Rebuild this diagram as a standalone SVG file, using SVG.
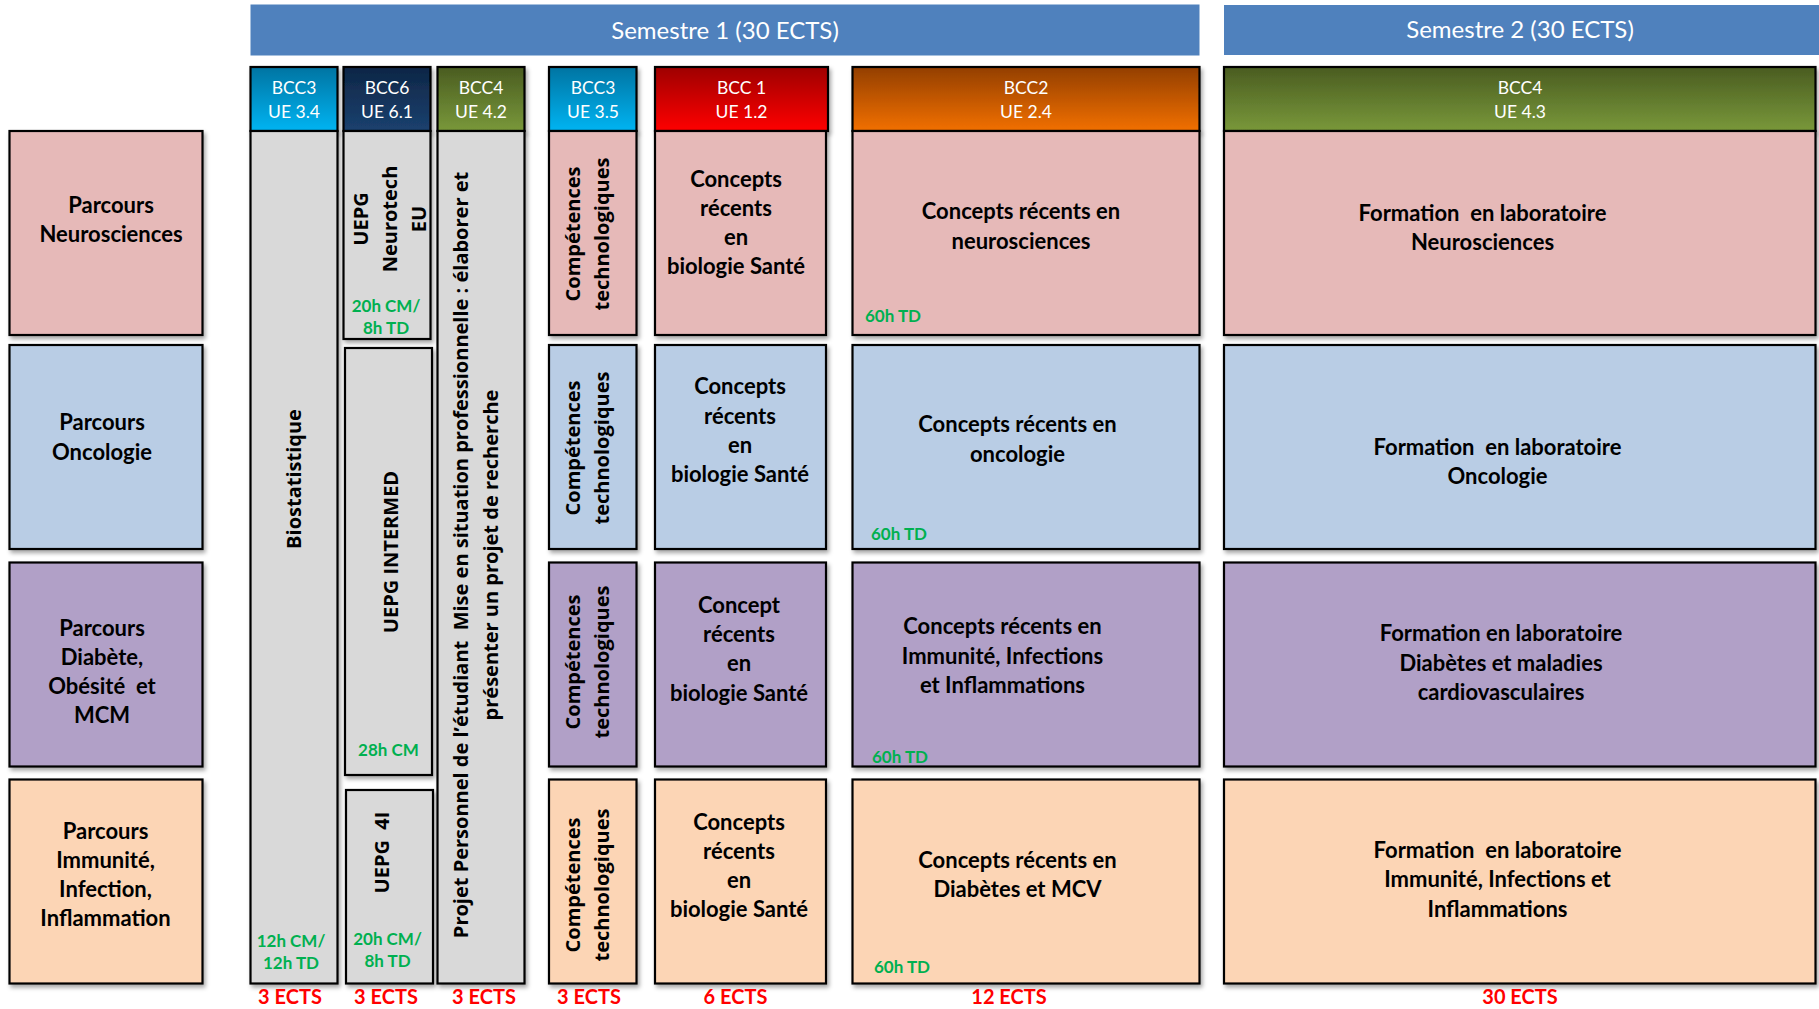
<svg xmlns="http://www.w3.org/2000/svg" width="1819" height="1009" viewBox="0 0 1819 1009">
<defs>
<style>
.box{stroke:#000;stroke-width:2.2;filter:url(#sh)}
.hdr{stroke:#000;stroke-width:2.2;filter:url(#sh)}
.r1{fill:#E6B9B8}.r2{fill:#B9CDE5}.r3{fill:#B1A0C7}.r4{fill:#FCD5B5}.gr{fill:#D9D9D9}
.ban{fill:#4F81BD}
.t{font-family:Lato,Carlito,"Liberation Sans",sans-serif;font-weight:bold;font-size:22px;fill:#000;text-anchor:middle;dominant-baseline:central}
.ht{font-family:Lato,Carlito,"Liberation Sans",sans-serif;font-size:17.5px;fill:#fff;text-anchor:middle;dominant-baseline:central}
.st{font-family:Lato,Carlito,"Liberation Sans",sans-serif;font-size:24px;fill:#fff;text-anchor:middle;dominant-baseline:central}
.rt{font-family:"Open Sans","Noto Sans",sans-serif;font-weight:bold;font-size:20px;fill:#000;text-anchor:middle;dominant-baseline:central}
.g{font-family:Lato,Carlito,"Liberation Sans",sans-serif;font-weight:bold;font-size:17px;fill:#00B050;text-anchor:middle;dominant-baseline:central}
.gl{text-anchor:start}
.ects{font-family:Lato,Carlito,"Liberation Sans",sans-serif;font-weight:bold;font-size:20px;fill:#FF0000;text-anchor:middle;dominant-baseline:central}
.band{stroke-width:11;filter:url(#sh)}
</style>
<filter id="sh" x="-10%" y="-10%" width="125%" height="125%">
<feDropShadow dx="2" dy="3" stdDeviation="2" flood-color="#000" flood-opacity="0.35"/>
</filter>
<linearGradient id="gCyan" x1="0" y1="0" x2="0" y2="1"><stop offset="0" stop-color="#0074A2"/><stop offset="1" stop-color="#00B4F2"/></linearGradient>
<linearGradient id="gNavy" x1="0" y1="0" x2="0" y2="1"><stop offset="0" stop-color="#0E2646"/><stop offset="1" stop-color="#1B416F"/></linearGradient>
<linearGradient id="gOlive" x1="0" y1="0" x2="0" y2="1"><stop offset="0" stop-color="#4A5C21"/><stop offset="1" stop-color="#79983A"/></linearGradient>
<linearGradient id="gRed" x1="0" y1="0" x2="0" y2="1"><stop offset="0" stop-color="#9E0000"/><stop offset="1" stop-color="#FF0000"/></linearGradient>
<linearGradient id="gOrange" x1="0" y1="0" x2="0" y2="1"><stop offset="0" stop-color="#933F00"/><stop offset="1" stop-color="#F27000"/></linearGradient>
</defs>
<rect width="1819" height="1009" fill="#fff"/>

<g id="connectors">
<line class="band" x1="200" y1="237.5" x2="1226" y2="237.5" stroke="#DFADAC"/>
<line class="band" x1="200" y1="450.5" x2="1226" y2="450.5" stroke="#95B3D7"/>
<line class="band" x1="200" y1="657.5" x2="1226" y2="657.5" stroke="#B3A2C7"/>
<line class="band" x1="200" y1="874" x2="1226" y2="874" stroke="#F7C7A0"/>
</g>

<g id="semestre1"><rect class="ban" x="250.5" y="4.5" width="949" height="51"/><text class="st" x="725" y="29.5">Semestre 1 (30 ECTS)</text></g>
<g id="semestre2"><rect class="ban" x="1224" y="5" width="595" height="50"/><text class="st" x="1520" y="28.5">Semestre 2 (30 ECTS)</text></g>

<g id="hdr-bcc3-34"><rect class="hdr" x="250.5" y="67" width="87" height="64" fill="url(#gCyan)"/><text class="ht" x="294" y="87.5">BCC3</text><text class="ht" x="294" y="111">UE 3.4</text></g>
<g id="hdr-bcc6"><rect class="hdr" x="343.5" y="67" width="87" height="64" fill="url(#gNavy)"/><text class="ht" x="387" y="87.5">BCC6</text><text class="ht" x="387" y="111">UE 6.1</text></g>
<g id="hdr-bcc4-42"><rect class="hdr" x="437.5" y="67" width="87" height="64" fill="url(#gOlive)"/><text class="ht" x="481" y="87.5">BCC4</text><text class="ht" x="481" y="111">UE 4.2</text></g>
<g id="hdr-bcc3-35"><rect class="hdr" x="549" y="67" width="87.5" height="64" fill="url(#gCyan)"/><text class="ht" x="593" y="87.5">BCC3</text><text class="ht" x="593" y="111">UE 3.5</text></g>
<g id="hdr-bcc1"><rect class="hdr" x="655" y="67" width="173" height="64" fill="url(#gRed)"/><text class="ht" x="741.5" y="87.5">BCC 1</text><text class="ht" x="741.5" y="111">UE 1.2</text></g>
<g id="hdr-bcc2"><rect class="hdr" x="852.5" y="67" width="347" height="64" fill="url(#gOrange)"/><text class="ht" x="1026" y="87.5">BCC2</text><text class="ht" x="1026" y="111">UE 2.4</text></g>
<g id="hdr-bcc4-43"><rect class="hdr" x="1224" y="67" width="591.5" height="64" fill="url(#gOlive)"/><text class="ht" x="1520" y="87.5">BCC4</text><text class="ht" x="1520" y="111">UE 4.3</text></g>

<g id="parcours-neuro"><rect class="box r1" x="9.5" y="131" width="193" height="204"/><text class="t" x="111" y="204.5">Parcours</text><text class="t" x="111" y="233.5">Neurosciences</text></g>
<g id="parcours-onco"><rect class="box r2" x="9.5" y="345" width="193" height="204"/><text class="t" x="102" y="421.5">Parcours</text><text class="t" x="102" y="451">Oncologie</text></g>
<g id="parcours-diab"><rect class="box r3" x="9.5" y="562.5" width="193" height="204"/><text class="t" x="102" y="627.5">Parcours</text><text class="t" x="102" y="656.5">Diabète,</text><text class="t" x="102" y="685.5" xml:space="preserve">Obésité  et</text><text class="t" x="102" y="714.5">MCM</text></g>
<g id="parcours-immun"><rect class="box r4" x="9.5" y="779.5" width="193" height="204"/><text class="t" x="105.5" y="830.5">Parcours</text><text class="t" x="105.5" y="859.5">Immunité,</text><text class="t" x="105.5" y="888.5">Infection,</text><text class="t" x="105.5" y="917.5">Inflammation</text></g>

<g id="biostat"><rect class="box gr" x="250.5" y="131" width="87" height="852.5"/><text class="rt" transform="translate(293.5,479) rotate(-90)">Biostatistique</text><text class="g" x="291" y="940">12h CM/</text><text class="g" x="291" y="962">12h TD</text></g>

<g id="uepg-neurotech"><rect class="box gr" x="343.5" y="131" width="87" height="208"/><text class="rt" transform="translate(360.5,219) rotate(-90)">UEPG</text><text class="rt" transform="translate(389.5,219) rotate(-90)">Neurotech</text><text class="rt" transform="translate(418,219) rotate(-90)">EU</text><text class="g" x="386" y="305">20h CM/</text><text class="g" x="386" y="327">8h TD</text></g>
<g id="uepg-intermed"><rect class="box gr" x="345" y="348" width="87" height="427"/><text class="rt" transform="translate(390,552) rotate(-90)">UEPG INTERMED</text><text class="g" x="388.5" y="749.5">28h CM</text></g>
<g id="uepg-4i"><rect class="box gr" x="346" y="790" width="87" height="193.5"/><text class="rt" transform="translate(381.5,852.5) rotate(-90)" xml:space="preserve">UEPG  4I</text><text class="g" x="387.5" y="938.5">20h CM/</text><text class="g" x="387.5" y="960.5">8h TD</text></g>

<g id="projet"><rect class="box gr" x="437.5" y="131" width="87" height="852.5"/><text class="rt" transform="translate(460,555) rotate(-90)" xml:space="preserve">Projet Personnel de l’étudiant  Mise en situation professionnelle : élaborer et</text><text class="rt" transform="translate(490.5,555) rotate(-90)">présenter un projet de recherche</text></g>

<g id="comp-1"><rect class="box r1" x="549" y="131" width="87.5" height="204"/><text class="rt" transform="translate(572,234) rotate(-90)">Compétences</text><text class="rt" transform="translate(601,234) rotate(-90)">technologiques</text></g>
<g id="comp-2"><rect class="box r2" x="549" y="345" width="87.5" height="204"/><text class="rt" transform="translate(572,448) rotate(-90)">Compétences</text><text class="rt" transform="translate(601,448) rotate(-90)">technologiques</text></g>
<g id="comp-3"><rect class="box r3" x="549" y="562.5" width="87.5" height="204"/><text class="rt" transform="translate(572,662) rotate(-90)">Compétences</text><text class="rt" transform="translate(601,662) rotate(-90)">technologiques</text></g>
<g id="comp-4"><rect class="box r4" x="549" y="779.5" width="87.5" height="204"/><text class="rt" transform="translate(572,885) rotate(-90)">Compétences</text><text class="rt" transform="translate(601,885) rotate(-90)">technologiques</text></g>

<g id="bcc1-1"><rect class="box r1" x="655" y="131" width="171" height="204"/><text class="t" x="736" y="178.5">Concepts</text><text class="t" x="736" y="207.5">récents</text><text class="t" x="736" y="236.5">en</text><text class="t" x="736" y="265.5">biologie Santé</text></g>
<g id="bcc1-2"><rect class="box r2" x="655" y="345" width="171" height="204"/><text class="t" x="740" y="385">Concepts</text><text class="t" x="740" y="415">récents</text><text class="t" x="740" y="444">en</text><text class="t" x="740" y="473">biologie Santé</text></g>
<g id="bcc1-3"><rect class="box r3" x="655" y="562.5" width="171" height="204"/><text class="t" x="739" y="604">Concept</text><text class="t" x="739" y="633">récents</text><text class="t" x="739" y="662">en</text><text class="t" x="739" y="692.5">biologie Santé</text></g>
<g id="bcc1-4"><rect class="box r4" x="655" y="779.5" width="171" height="204"/><text class="t" x="739" y="821">Concepts</text><text class="t" x="739" y="850">récents</text><text class="t" x="739" y="879">en</text><text class="t" x="739" y="908">biologie Santé</text></g>

<g id="bcc2-1"><rect class="box r1" x="852.5" y="131" width="347" height="204"/><text class="t" x="1021" y="210">Concepts récents en</text><text class="t" x="1021" y="240">neurosciences</text><text class="g gl" x="865" y="315.5">60h TD</text></g>
<g id="bcc2-2"><rect class="box r2" x="852.5" y="345" width="347" height="204"/><text class="t" x="1017.5" y="423.5">Concepts récents en</text><text class="t" x="1017.5" y="453.5">oncologie</text><text class="g gl" x="871" y="533.5">60h TD</text></g>
<g id="bcc2-3"><rect class="box r3" x="852.5" y="562.5" width="347" height="204"/><text class="t" x="1002.5" y="625">Concepts récents en</text><text class="t" x="1002.5" y="655.5">Immunité, Infections</text><text class="t" x="1002.5" y="684.5">et Inflammations</text><text class="g gl" x="872" y="756.5">60h TD</text></g>
<g id="bcc2-4"><rect class="box r4" x="852.5" y="779.5" width="347" height="204"/><text class="t" x="1017.5" y="859.5">Concepts récents en</text><text class="t" x="1017.5" y="888.5">Diabètes et MCV</text><text class="g gl" x="874" y="966.5">60h TD</text></g>

<g id="s2-1"><rect class="box r1" x="1224" y="131" width="591.5" height="204"/><text class="t" x="1482.5" y="212.5" xml:space="preserve">Formation  en laboratoire</text><text class="t" x="1482.5" y="241.5">Neurosciences</text></g>
<g id="s2-2"><rect class="box r2" x="1224" y="345" width="591.5" height="204"/><text class="t" x="1497.5" y="446.5" xml:space="preserve">Formation  en laboratoire</text><text class="t" x="1497.5" y="475.5">Oncologie</text></g>
<g id="s2-3"><rect class="box r3" x="1224" y="562.5" width="591.5" height="204"/><text class="t" x="1501" y="632">Formation en laboratoire</text><text class="t" x="1501" y="662">Diabètes et maladies</text><text class="t" x="1501" y="691.5">cardiovasculaires</text></g>
<g id="s2-4"><rect class="box r4" x="1224" y="779.5" width="591.5" height="204"/><text class="t" x="1497.5" y="849" xml:space="preserve">Formation  en laboratoire</text><text class="t" x="1497.5" y="878.5">Immunité, Infections et</text><text class="t" x="1497.5" y="908">Inflammations</text></g>

<g id="ects">
<text class="ects" x="290" y="995.5">3 ECTS</text>
<text class="ects" x="386" y="995.5">3 ECTS</text>
<text class="ects" x="484" y="995.5">3 ECTS</text>
<text class="ects" x="589" y="995.5">3 ECTS</text>
<text class="ects" x="735.5" y="995.5">6 ECTS</text>
<text class="ects" x="1009" y="995.5">12 ECTS</text>
<text class="ects" x="1520" y="995.5">30 ECTS</text>
</g>
</svg>
